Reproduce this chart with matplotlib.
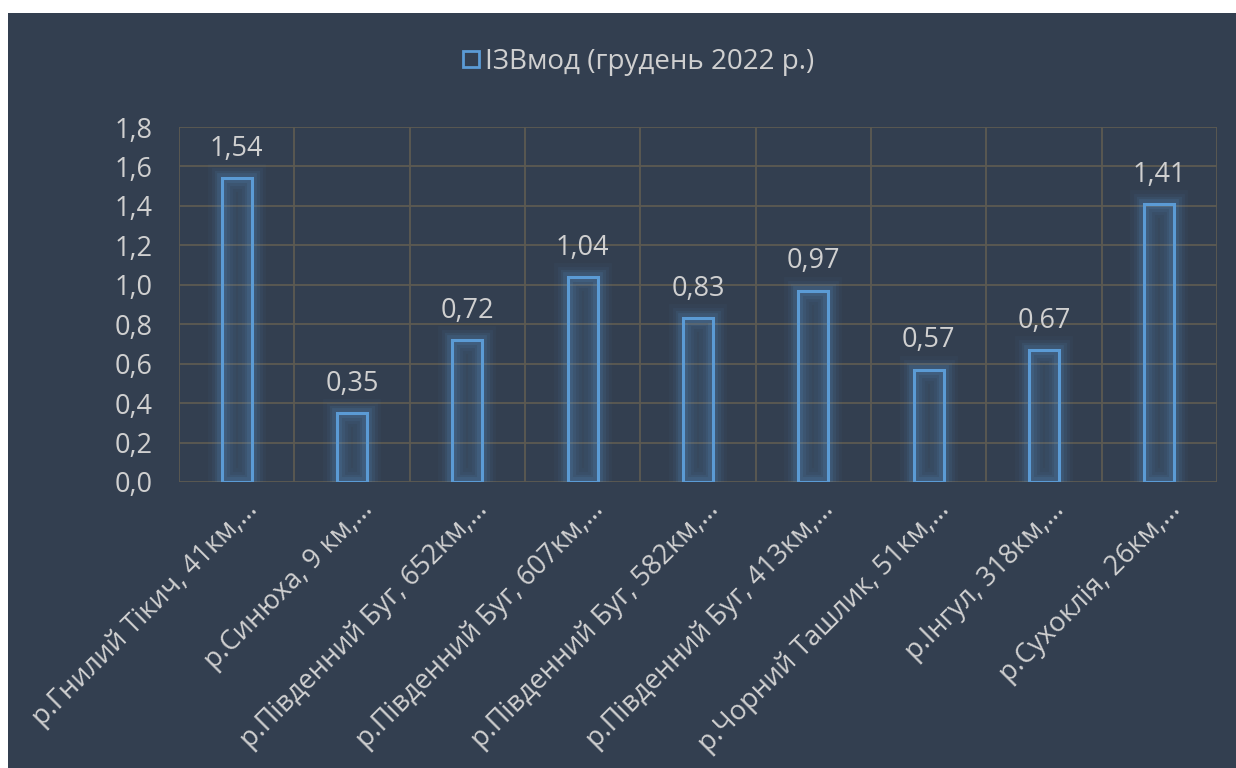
import matplotlib.pyplot as plt
import numpy as np
from matplotlib.patches import Rectangle
from matplotlib.lines import Line2D

# Річки та значення ІЗВмод
rivers = [
    'р.Гнилий Тікич, 41км,…',
    'р.Синюха, 9 км,…',
    'р.Південний Буг, 652км,…',
    'р.Південний Буг, 607км,…',
    'р.Південний Буг, 582км,…',
    'р.Південний Буг, 413км,…',
    'р.Чорний Ташлик, 51км,…',
    'р.Інгул, 318км,…',
    'р.Сухоклія, 26км,…',
]
izv_values = [1.54, 0.35, 0.72, 1.04, 0.83, 0.97, 0.57, 0.67, 1.41]
y_ticks = [0.0, 0.2, 0.4, 0.6, 0.8, 1.0, 1.2, 1.4, 1.6, 1.8]
series_name = 'ІЗВмод (грудень 2022 р.)'

bg = '#333f50'
bar_col = '#5b9bd5'
txt_col = '#d0d0d0'
grid_col = '#5c5a52'

plt.rcParams['font.family'] = ['Open Sans', 'DejaVu Sans']

fig = plt.figure(figsize=(12.36, 7.68), dpi=100, facecolor='white')
# темна підкладка (з білою смугою зліва і зверху)
fig.patches.append(Rectangle((8 / 1236, 0), 1, 1 - 13 / 768, transform=fig.transFigure,
                             facecolor=bg, edgecolor='none', zorder=-10))

ax = fig.add_axes([179 / 1236, 1 - 482 / 768, (1217 - 179) / 1236, (482 - 127) / 768])
ax.set_facecolor(bg)

x = np.arange(len(rivers))
w = 0.26

# світіння навколо стовпчиків
for lw, a in [(20, 0.04), (15, 0.06), (11, 0.09), (7, 0.13)]:
    ax.bar(x, izv_values, width=w, facecolor='none', edgecolor=bar_col,
           linewidth=lw, alpha=a, zorder=2)
ax.bar(x, izv_values, width=w, facecolor=bar_col, alpha=0.10, edgecolor='none', zorder=2)
ax.bar(x, izv_values, width=w, facecolor='none', edgecolor=bar_col, linewidth=2.2, zorder=3)

for xi, v in zip(x, izv_values):
    ax.annotate(f'{v:.2f}'.replace('.', ','), xy=(xi, v), xytext=(0, 11),
                textcoords='offset points', ha='center', va='bottom',
                fontsize=19.5, color=txt_col, zorder=4)

ax.set_xlim(-0.5, len(rivers) - 0.5)
ax.set_ylim(0, 1.8)
ax.set_yticks(y_ticks)
ax.set_yticklabels([f'{t:.1f}'.replace('.', ',') for t in y_ticks], fontsize=19.5, color=txt_col)

# сітка: горизонтальні лінії та межі категорій
for t in y_ticks:
    ax.axhline(t, color=grid_col, linewidth=1.3, zorder=1)
for b in np.arange(-0.5, len(rivers), 1.0):
    ax.axvline(b, color=grid_col, linewidth=1.3, zorder=1)

ax.set_xticks(x)
ax.set_xticklabels([])
for xi, name in zip(x, rivers):
    ax.annotate(name, xy=(xi, 0), xycoords='data', xytext=(12, -17),
                textcoords='offset points', rotation=45, rotation_mode='anchor',
                ha='right', va='center', fontsize=19.5, color=txt_col)

ax.tick_params(length=0, pad=19)
for s in ax.spines.values():
    s.set_visible(False)

handle = Line2D([], [], marker='s', linestyle='none', markersize=11,
                markerfacecolor='none', markeredgecolor=bar_col, markeredgewidth=2)
fig.legend([handle], [series_name], loc='center', bbox_to_anchor=(0.515, 1 - 62 / 768),
           frameon=False, fontsize=20, labelcolor=txt_col, handletextpad=0.05,
           handlelength=0.9)

fig.savefig('out.png', dpi=100, facecolor=fig.get_facecolor())
